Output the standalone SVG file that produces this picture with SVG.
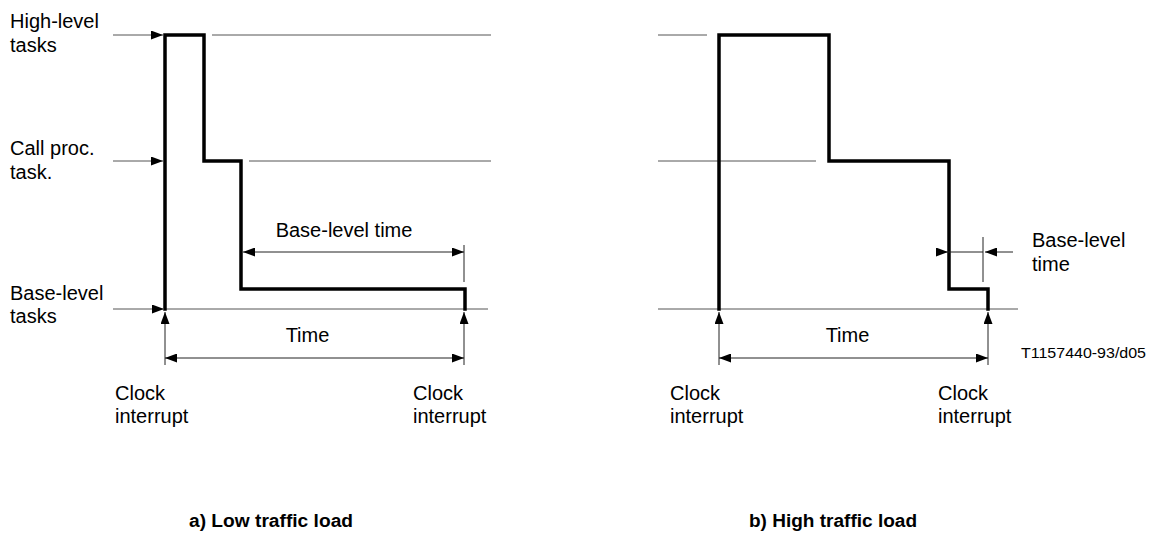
<svg xmlns="http://www.w3.org/2000/svg" width="1151" height="534" viewBox="0 0 1151 534">
<style>
text{font-family:"Liberation Sans",Arial,sans-serif;font-size:20px;fill:#000}
.cap{font-weight:bold;font-size:18px}
.small{font-size:15.5px}
.thin{stroke:#555;stroke-width:1;fill:none}
.dim{stroke:#222;stroke-width:1;fill:none}
.sig{stroke:#000;stroke-width:3.5;fill:none;stroke-linejoin:miter;stroke-linecap:square}
</style>
<defs>
<marker id="ah" viewBox="0 0 12 9" refX="12" refY="4.5" markerWidth="12" markerHeight="9" markerUnits="userSpaceOnUse" orient="auto-start-reverse">
<path d="M0,0 L12,4.5 L0,9 z" fill="#000"/>
</marker>
</defs>
<g id="panel-a">
<g id="a-labels">
<text x="10" y="28">High-level</text>
<text x="10" y="52">tasks</text>
<text x="10" y="155">Call proc.</text>
<text x="10" y="179">task.</text>
<text x="10" y="300">Base-level</text>
<text x="10" y="323">tasks</text>
<text x="344" y="237" text-anchor="middle">Base-level time</text>
<text x="307.5" y="342" text-anchor="middle">Time</text>
<text x="115" y="400">Clock</text>
<text x="115" y="423">interrupt</text>
<text x="413" y="400">Clock</text>
<text x="413" y="423">interrupt</text>
<text class="cap" x="189" y="527" textLength="164" lengthAdjust="spacingAndGlyphs">a) Low traffic load</text>
</g>
<g id="a-levels">
<line class="thin" x1="212" y1="35" x2="491" y2="35"/>
<line class="thin" x1="249" y1="161" x2="491" y2="161"/>
<line class="thin" x1="165" y1="309" x2="488" y2="309"/>
</g>
<g id="a-signal">
<path class="sig" d="M165,309 V35 H204 V161 H241 V289 H465 V309"/>
</g>
</g>
<g id="panel-b">
<g id="b-labels">
<text x="1032" y="247">Base-level</text>
<text x="1032" y="271">time</text>
<text x="847.5" y="342" text-anchor="middle">Time</text>
<text x="670" y="400">Clock</text>
<text x="670" y="423">interrupt</text>
<text x="938" y="400">Clock</text>
<text x="938" y="423">interrupt</text>
<text class="small" x="1021" y="358" textLength="125" lengthAdjust="spacingAndGlyphs">T1157440-93/d05</text>
<text class="cap" x="749" y="527" textLength="168" lengthAdjust="spacingAndGlyphs">b) High traffic load</text>
</g>
<g id="b-levels">
<line class="thin" x1="658" y1="35" x2="707" y2="35"/>
<line class="thin" x1="658" y1="161" x2="816" y2="161"/>
<line class="thin" x1="658" y1="309" x2="1018" y2="309"/>
</g>
<g id="b-signal">
<path class="sig" d="M719,309 V35 H829 V161 H949 V289 H988 V309"/>
</g>
</g>
<g id="connectors">
<line class="thin" x1="113" y1="35" x2="163" y2="35" marker-end="url(#ah)"/>
<line class="thin" x1="113" y1="161" x2="163" y2="161" marker-end="url(#ah)"/>
<line class="thin" x1="113" y1="309" x2="164" y2="309" marker-end="url(#ah)"/>
<line class="dim" x1="243" y1="252" x2="464" y2="252" marker-start="url(#ah)" marker-end="url(#ah)"/>
<line class="dim" x1="464" y1="245" x2="464" y2="282"/>
<line class="dim" x1="165" y1="365" x2="165" y2="312" marker-end="url(#ah)"/>
<line class="dim" x1="464" y1="365" x2="464" y2="312" marker-end="url(#ah)"/>
<line class="dim" x1="165" y1="358" x2="464" y2="358" marker-start="url(#ah)" marker-end="url(#ah)"/>
<line class="dim" x1="936" y1="252" x2="948" y2="252" marker-end="url(#ah)"/>
<line class="dim" x1="948" y1="252" x2="983" y2="252"/>
<line class="dim" x1="1013" y1="252" x2="985" y2="252" marker-end="url(#ah)"/>
<line class="dim" x1="983" y1="237" x2="983" y2="282"/>
<line class="dim" x1="719" y1="365" x2="719" y2="312" marker-end="url(#ah)"/>
<line class="dim" x1="988" y1="365" x2="988" y2="312" marker-end="url(#ah)"/>
<line class="dim" x1="719" y1="358" x2="988" y2="358" marker-start="url(#ah)" marker-end="url(#ah)"/>
</g>
</svg>
